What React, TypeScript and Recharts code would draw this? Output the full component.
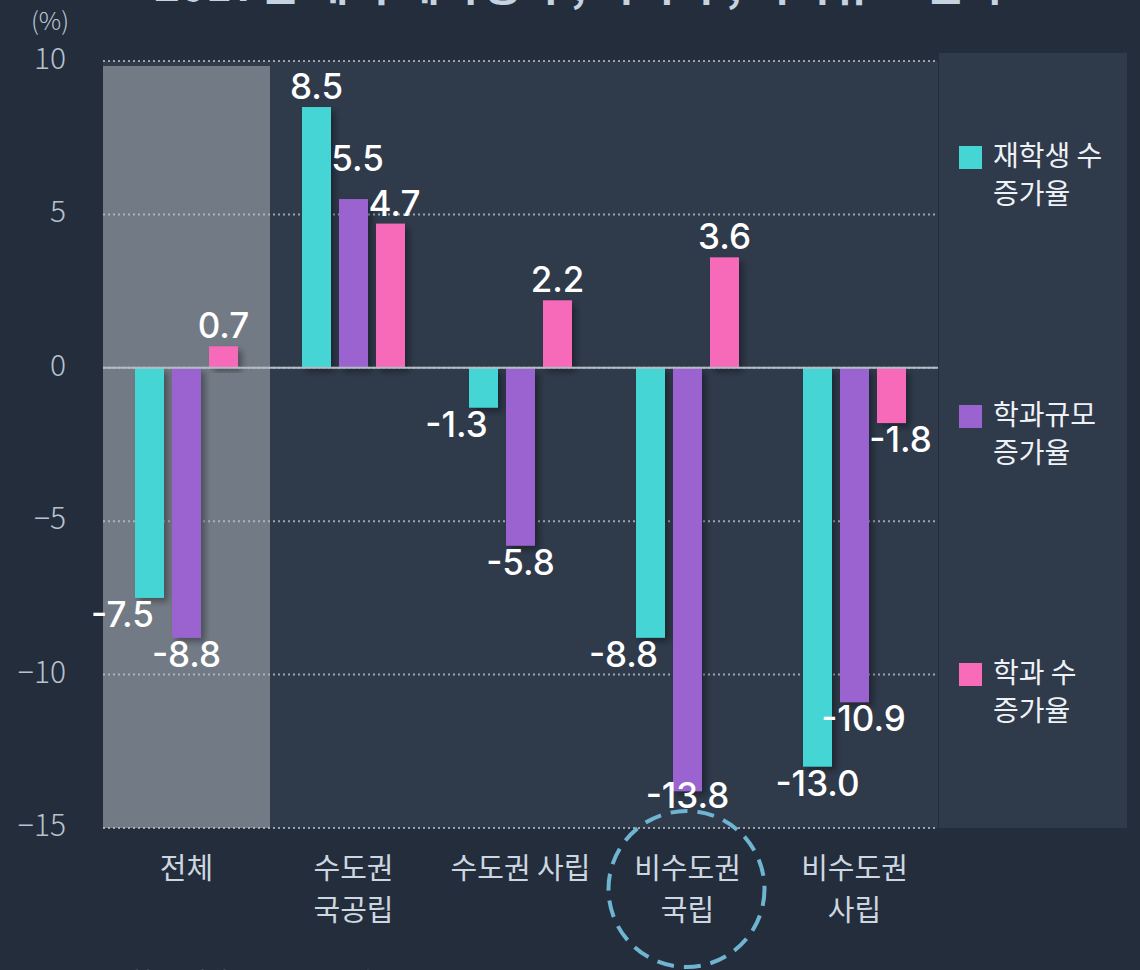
import React from "react";
import {
  BarChart,
  Bar,
  XAxis,
  YAxis,
  CartesianGrid,
  ReferenceLine,
  ReferenceArea,
  LabelList,
  Legend,
} from "recharts";

// ---------- data ----------
const CATEGORIES = ["전체", "수도권\n국공립", "수도권 사립", "비수도권\n국립", "비수도권\n사립"];
const SERIES_NAMES = ["재학생 수\n증가율", "학과규모\n증가율", "학과 수\n증가율"];
const STUDENT_RATE = [-7.5, 8.5, -1.3, -8.8, -13.0];
const SCALE_RATE = [-8.8, 5.5, -5.8, -13.8, -10.9];
const DEPT_RATE = [0.7, 4.7, 2.2, 3.6, -1.8];
const Y_TICKS = [10, 5, 0, -5, -10, -15];
const Y_DOMAIN: [number, number] = [-15, 10];
const SHADED_CATEGORY = "전체";
const HIGHLIGHT_CATEGORY = "비수도권\n국립";
const UNIT_LABEL = "(%)";
const TITLE = "2017년 대비 재학생 수, 학과 수, 학과규모 변화";
const SOURCE = "자료: 대학알리미, 한국교육개발원 교육통계";

// ---------- layout / styling ----------
const CHART_W = 1140;
const CHART_H = 970;
const MARGIN = { top: 61, right: 14, bottom: 82, left: 23 };
const X_AXIS_H = 60;
const PLOT_BOTTOM = CHART_H - MARGIN.bottom - X_AXIS_H;
const KEYS = ["student", "scale", "dept"];
const COLORS = ["#45d5d4", "#9b63cf", "#f76bb9"];
const SERIES = [STUDENT_RATE, SCALE_RATE, DEPT_RATE];
const BG = "#242d3b";
const PANEL = "#2f3a4b";
const KR = "'Noto Sans CJK KR', 'Noto Sans', sans-serif";

const data = CATEGORIES.map((name, i) => ({
  name,
  student: STUDENT_RATE[i],
  scale: SCALE_RATE[i],
  dept: DEPT_RATE[i],
}));

const ShadowBar = (props: any) => {
  const { x, y, width, height, fill } = props;
  if (x == null || y == null) return null;
  const top = Math.min(y, y + height);
  const h = Math.abs(height);
  return <rect x={x} y={top} width={width} height={h} fill={fill} filter="url(#barShadow)" />;
};

// label positions follow the bar ends, nudged away from neighbouring bars / labels
const makeLabel = (s: number) => (props: any) => {
  const { x, y, width, height, value, index } = props;
  if (x == null || y == null) return null;
  const v = Number(value);
  const top = Math.min(y, y + height);
  const bottom = Math.max(y, y + height);
  const pxPerUnit = Math.abs(height) / Math.max(Math.abs(v), 1e-9);
  let cx = x + width / 2;
  let ty: number;
  const left = s > 0 ? SERIES[s - 1][index] : null;
  const right = s < SERIES.length - 1 ? SERIES[s + 1][index] : null;
  if (v >= 0) {
    ty = top - 8;
    if (right != null && right > 0 && Math.abs(right - v) * pxPerUnit < 40) {
      const rightTy = top + (v - right) * pxPerUnit - 8;
      ty = Math.min(ty, rightTy - 45);
      cx += 4;
    } else if (left != null && left > v) {
      cx += 4;
    }
  } else {
    ty = Math.min(bottom + 29, PLOT_BOTTOM - 20);
    if (right != null && right < v) cx -= 27;
    else if (left != null && left < v) cx += 9;
  }
  return (
    <text
      x={cx}
      y={ty}
      textAnchor="middle"
      fill="#ffffff"
      fontSize={35}
      fontWeight={500}
      fontFamily="Inter, 'Noto Sans', sans-serif"
    >
      {v.toFixed(1)}
    </text>
  );
};

const YTick = ({ x, y, payload }: any) => {
  const v = Number(payload.value);
  const label = v < 0 ? `\u2212${Math.abs(v)}` : String(v);
  return (
    <text x={x} y={y} dy={8} textAnchor="end" fill="#b5c3d1" fontSize={30} fontWeight={300} fontFamily={KR}>
      {label}
    </text>
  );
};

const XTick = ({ x, y, payload }: any) => {
  const lines = String(payload.value).split("\n");
  return (
    <g>
      {payload.value === HIGHLIGHT_CATEGORY && (
        <ellipse
          cx={x - 1}
          cy={y + 61}
          rx={78}
          ry={78}
          fill="none"
          stroke="#6fb4d0"
          strokeWidth={4}
          strokeDasharray="17 10"
        />
      )}
      <text x={x} y={y} textAnchor="middle" fill="#cdd7e1" fontSize={29} fontFamily={KR}>
        {lines.map((l, i) => (
          <tspan key={i} x={x} dy={i === 0 ? 51 : 42}>
            {l}
          </tspan>
        ))}
      </text>
    </g>
  );
};

const LegendContent = ({ payload }: any) => {
  const items = [...(payload || [])].sort(
    (a: any, b: any) => KEYS.indexOf(a.dataKey) - KEYS.indexOf(b.dataKey)
  );
  return (
    <div style={{ position: "relative", width: 188, height: 775 }}>
      {items.map((item: any, i: number) => (
        <div
          key={i}
          style={{ position: "absolute", left: 20, top: 82 + i * 258.5, display: "flex", alignItems: "flex-start" }}
        >
          <div style={{ width: 23, height: 23, background: item.color, marginTop: 11, marginRight: 11 }} />
          <div
            style={{
              whiteSpace: "pre-line",
              color: "#eef2f6",
              fontSize: 28,
              lineHeight: "38px",
              fontFamily: KR,
            }}
          >
            {item.value}
          </div>
        </div>
      ))}
    </div>
  );
};

export default function App() {
  return (
    <div
      style={{
        position: "absolute",
        left: 0,
        top: 0,
        width: CHART_W,
        height: CHART_H,
        background: BG,
        overflow: "hidden",
      }}
    >
      <BarChart
        width={CHART_W}
        height={CHART_H}
        data={data}
        margin={MARGIN}
        barGap={8}
        barCategoryGap={32}
      >
        <CartesianGrid vertical={false} stroke="#9aa4af" strokeDasharray="2 3" strokeWidth={2} fill={PANEL} />
        <ReferenceArea
          x1={SHADED_CATEGORY}
          x2={SHADED_CATEGORY}
          y1={-15}
          y2={9.84}
          fill="#c0c5ca"
          fillOpacity={0.462}
          stroke="none"
          ifOverflow="visible"
        />
        <XAxis
          dataKey="name"
          type="category"
          axisLine={false}
          tickLine={false}
          tickSize={0}
          tickMargin={0}
          height={X_AXIS_H}
          interval={0}
          tick={<XTick />}
        />
        <YAxis
          type="number"
          domain={Y_DOMAIN}
          ticks={Y_TICKS}
          width={80}
          axisLine={false}
          tickLine={false}
          tickSize={0}
          tickMargin={37}
          tick={<YTick />}
          allowDataOverflow
        />
        <ReferenceLine y={0} stroke="#b5bcc4" strokeWidth={2} />
        {KEYS.map((k, s) => (
          <Bar
            key={k}
            dataKey={k}
            name={SERIES_NAMES[s]}
            fill={COLORS[s]}
            isAnimationActive={false}
            shape={<ShadowBar />}
          >
            <LabelList dataKey={k} content={makeLabel(s)} />
          </Bar>
        ))}
        <Legend
          layout="vertical"
          align="right"
          verticalAlign="top"
          content={<LegendContent />}
          wrapperStyle={{ top: 53, right: 13, width: 188, height: 775, background: PANEL, left: "auto" }}
        />
      </BarChart>
      <svg
        width={CHART_W}
        height={CHART_H}
        style={{ position: "absolute", left: 0, top: 0, pointerEvents: "none" }}
      >
        <defs>
          <filter id="barShadow" x="-30%" y="-10%" width="170%" height="130%">
            <feDropShadow dx="4" dy="4" stdDeviation="3" floodColor="#000000" floodOpacity="0.35" />
          </filter>
        </defs>
        <text x={579} y={1} textAnchor="middle" fill="#c5d3e0" fontSize={44} fontWeight={700} fontFamily={KR}>
          {TITLE}
        </text>
        <text x={50} y={30} textAnchor="middle" fill="#b5c3d1" fontSize={25} fontWeight={300} fontFamily={KR}>
          {UNIT_LABEL}
        </text>
        <text x={62} y={990} fill="#9aa5b2" fontSize={24} fontFamily={KR}>
          {SOURCE}
        </text>
      </svg>
    </div>
  );
}
